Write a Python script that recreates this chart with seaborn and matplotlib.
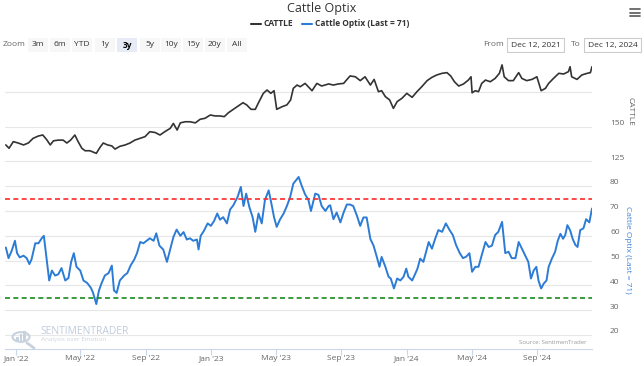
import matplotlib
matplotlib.use("Agg")
import matplotlib.pyplot as plt
import seaborn as sns
import pandas as pd
import numpy as np
from matplotlib.patches import Rectangle, Circle
from matplotlib.lines import Line2D
from matplotlib.transforms import ScaledTranslation

# ---------------- data ----------------
start_date = "2021-12-12"
end_date = "2024-12-12"

cattle_days = [1, 7, 15, 24, 34, 43, 52, 62, 70, 77,
               84, 90, 99, 108, 115, 122, 130, 136, 143, 149,
               158, 170, 177, 183, 191, 199, 205, 214, 224, 233,
               242, 252, 261, 270, 280, 289, 298, 308, 314, 321,
               327, 336, 345, 355, 364, 373, 383, 392, 401, 409,
               417, 426, 435, 444, 451, 459, 467, 473, 482, 489,
               496, 502, 507, 517, 526, 533, 538, 545,
               551, 560, 566, 573, 582, 591, 604, 613, 622, 632,
               644, 654, 663, 672, 682, 689, 697, 703, 710, 718,
               725, 732, 741, 750, 760, 769, 778, 788, 797, 806,
               816, 825, 832, 839, 847, 856, 865, 870, 872, 878,
               884, 890, 897, 906, 915, 923, 928, 932, 940, 949,
               959, 965, 974, 984, 993, 1001, 1009, 1015, 1024, 1034,
               1043, 1052, 1055, 1058, 1068, 1077, 1087, 1093, 1096]
cattle_vals = [137, 134.6, 139.4, 138.4, 137, 138.4, 141.8, 143.5, 144.2, 141,
               137, 140, 140.5, 140.5, 138.4, 140.5, 144.2, 139.4, 134.6, 132.8,
               132.8, 130.9, 135.3, 138.4, 137, 136.3, 134, 136, 137, 138.4,
               140.5, 141.8, 143, 146.6, 146, 144.2, 146.6, 149, 152.6, 147.8,
               153, 153.8, 153.8, 153, 155.6, 156.3, 158.7, 158, 158, 157.5,
               160.4, 162.8, 165.2, 167.6, 166, 162.8, 162.8, 167.6, 174.4, 176.8,
               174.4, 176.3, 162.8, 164.7, 166, 169.6, 178, 180.4,
               179.2, 181.6, 179.2, 176.3, 181.6, 179.7, 181.2, 180.4, 181.2, 181.6,
               187, 186.4, 183.6, 186.4, 180.4, 184.5, 175.6, 176.3, 172, 169.6,
               163.5, 168.4, 170.8, 174.4, 171.5, 175.6, 179.2, 183.6, 186, 187.7,
               188.9, 189.4, 187, 182.8, 179.7, 181.2, 184, 186.4, 174.8, 176.3,
               175.6, 181.6, 184, 182.8, 185.2, 188.9, 195, 186.4, 183.6, 183.6,
               189.4, 185.2, 183.6, 184.5, 186.4, 176.3, 178, 181.6, 185.2, 188.9,
               188.4, 190.1, 193.7, 186.4, 184.5, 187.7, 188.9, 189.4, 193.7]

optix_days = [1, 6, 12, 18, 22, 27, 34, 40, 45, 49,
              56, 62, 68, 72, 77, 82, 87, 93, 99, 105,
              112, 118, 123, 128, 133, 140, 146, 153, 160, 164,
              170, 175, 180, 186, 193, 199, 203, 208, 214, 222,
              228, 234, 241, 246, 252, 258, 264, 270, 277, 282,
              288, 295, 302, 308, 314, 320, 327, 333, 339, 345,
              351, 358, 361, 365, 371, 378, 384, 390, 396, 401,
              407, 414, 420, 426, 434, 440, 445, 450, 456, 462,
              467, 473, 479, 485, 492, 498, 502, 507, 513, 520,
              526, 532, 538, 548, 554, 560, 566, 571, 579, 585,
              591, 598, 604,
              607, 613, 619, 626, 632, 638, 644, 650, 657, 663,
              669, 675, 682, 688, 694, 699, 703, 710, 716, 720,
              726, 732, 738, 744, 749, 753, 760, 766, 770, 775,
              781, 786, 791, 797, 803, 809, 816, 823, 830, 836,
              842, 849, 855, 861, 867, 872, 878, 884, 890, 897,
              903, 909, 915, 921, 928, 934, 940, 946, 953, 959,
              965, 971, 977, 982, 987, 992, 996, 1001, 1006, 1011,
              1015, 1021, 1027, 1032, 1037, 1042, 1046, 1050, 1055, 1060,
              1065, 1069, 1074, 1080, 1085, 1091, 1096]
optix_vals = [55.3, 51, 54, 58, 53, 51.3, 52, 51, 48.6, 50.5,
              57, 57, 59, 60, 51, 42, 46, 44, 44.5, 47,
              42, 43, 49.5, 53, 47.5, 46, 42, 41, 39, 37,
              32.5, 38, 41, 44, 45, 48, 38, 37, 42, 44,
              45, 48, 50.5, 53, 57.5, 57, 58, 59, 58, 61,
              56, 54.5, 49.5, 54.5, 59.5, 62.5, 60, 61.5, 58.5, 59,
              58, 58.5, 54.5, 60, 62, 65, 64, 66, 69, 66.5,
              67.5, 65, 70.6, 72.3, 75.7, 79.7, 72, 77, 71.5, 67.5,
              61.6, 69, 65, 74.4, 78.3, 72, 67.5, 63.6, 66.5, 69,
              72, 75.5, 81, 83.7, 80, 76.7, 74.6, 70, 77, 76.5,
              72, 70, 72,
              72.3, 66.7, 69.4, 65.4, 69.4, 72.6, 72.6, 72, 68, 64,
              67.4, 67.4, 58.7, 56, 51.5, 47.5, 51.5, 47.5, 43.5, 42.8,
              38.8, 42.8, 42, 43.5, 46.8, 43.5, 42, 44.8, 46.8, 50.8,
              49.5, 53.5, 57.5, 54.8, 58.8, 62.3, 61.6, 65, 62.3, 60.3,
              56.3, 53, 51, 51.6, 53, 45.5, 47.5, 47.5, 52.2, 57.5,
              55.5, 56, 60.3, 61.6, 65.6, 53, 53.6, 51, 51, 57.5,
              54.8, 52.2, 49.5, 42.8, 46, 47.5, 42, 38.8, 40.8, 42,
              47.5, 50.8, 53.5, 58, 60.8, 58.8, 60.3, 64.3, 62.3, 58.7,
              56.3, 55.5, 62.3, 63, 66.7, 65.4, 71]

upper_band = 75
lower_band = 35

x_tick_dates = ["2022-01-01", "2022-05-01", "2022-09-01", "2023-01-01", "2023-05-01",
                "2023-09-01", "2024-01-01", "2024-05-01", "2024-09-01"]
x_tick_labels = ["Jan '22", "May '22", "Sep '22", "Jan '23", "May '23",
                 "Sep '23", "Jan '24", "May '24", "Sep '24"]
cattle_ticks = [125, 150, 175]
cattle_tick_labels = ["125", "150", ""]
optix_ticks = [20, 30, 40, 50, 60, 70, 80]
optix_tick_labels = ["20", "30", "40", "50", "60", "70", "80"]
zoom_buttons = ["3m", "6m", "YTD", "1y", "3y", "5y", "10y", "15y", "20y", "All"]
selected_button = "3y"
title_text = "Cattle Optix"
cattle_name = "CATTLE"
optix_name = "Cattle Optix (Last = 71)"
from_text = "Dec 12, 2021"
to_text = "Dec 12, 2024"

# ---------------- styling ----------------
sns.set_theme(style="white")
plt.rcParams["font.family"] = ["Open Sans", "DejaVu Sans"]

W, H = 644, 366
fig = plt.figure(figsize=(W / 100, H / 100), dpi=100)
fig.patch.set_facecolor("white")


def fx(px):
    return px / W


def fy(py):
    return 1 - py / H


x0, x1 = 5.3, 592
ax1 = fig.add_axes([fx(x0), fy(168.4), (x1 - x0) / W, 110.4 / H])
ax2 = fig.add_axes([fx(x0), fy(349), (x1 - x0) / W, 175 / H])

start = pd.Timestamp(start_date)
cattle_df = pd.DataFrame({"date": start + pd.to_timedelta(cattle_days, unit="D"),
                          "value": cattle_vals})
optix_df = pd.DataFrame({"date": start + pd.to_timedelta(optix_days, unit="D"),
                         "value": optix_vals})

grid_col = "#e6e6e6"
label_col = "#666666"
blue = "#2c7cd6"

for ax in (ax1, ax2):
    ax.set_facecolor("none")
    ax.set_xlim(pd.Timestamp(start_date), pd.Timestamp(end_date))
    for s in ax.spines.values():
        s.set_visible(False)
    ax.yaxis.tick_right()
    ax.tick_params(axis="y", length=0, pad=13, labelsize=6, labelcolor=label_col)
    ax.grid(axis="y", color=grid_col, linewidth=0.8)
    ax.grid(axis="x", visible=False)
    ax.set_axisbelow(True)

# top panel
sns.lineplot(data=cattle_df, x="date", y="value", ax=ax1, color="#333333", linewidth=1.2)
ax1.set_ylim(120, 200)
ax1.set_yticks(cattle_ticks)
ax1.set_yticklabels(cattle_tick_labels)
ax1.set_xticks([])
ax1.set_xlabel("")
ax1.set_ylabel("")

# bottom panel
sns.lineplot(data=optix_df, x="date", y="value", ax=ax2, color=blue, linewidth=1.4)
ax2.axhline(upper_band, color="#ff2a2a", linewidth=1.2, linestyle=(0, (3, 2)))
ax2.axhline(lower_band, color="#1a8a1a", linewidth=1.2, linestyle=(0, (3, 2)))
ax2.set_ylim(14.4, 84.9)
ax2.set_yticks(optix_ticks)
ax2.set_yticklabels(optix_tick_labels)
ax2.set_xticks(pd.to_datetime(x_tick_dates))
ax2.set_xticklabels(x_tick_labels)
ax2.tick_params(axis="x", length=4, width=0.8, color="#ccd6eb", labelsize=6,
                labelcolor=label_col, pad=0.5, bottom=True)
ax2.spines["bottom"].set_visible(True)
ax2.spines["bottom"].set_color("#ccd6eb")
ax2.spines["bottom"].set_linewidth(0.8)
ax2.set_xlabel("")
ax2.set_ylabel("")

offset = ScaledTranslation(0, 3 / 72, fig.dpi_scale_trans)
for ax in (ax1, ax2):
    for lab in ax.get_yticklabels():
        lab.set_transform(lab.get_transform() + offset)
        lab.set_horizontalalignment("left")

# axis titles
fig.text(fx(630), fy(111), cattle_name, rotation=270, ha="center", va="center",
         fontsize=6, color="#666666")
fig.text(fx(627), fy(250), optix_name, rotation=270, ha="center", va="center",
         fontsize=6, color="#3f84d8")

# header: title and legend
fig.text(fx(322), fy(8.5), title_text, ha="center", va="center", fontsize=9, color="#333333")
fig.add_artist(Line2D([fx(251), fx(261)], [fy(24), fy(24)], color="#333333", linewidth=1.5))
fig.text(fx(264), fy(24), cattle_name, ha="left", va="center", fontsize=6,
         fontweight="bold", color="#333333")
fig.add_artist(Line2D([fx(302), fx(312)], [fy(24), fy(24)], color=blue, linewidth=1.5))
fig.text(fx(315), fy(24), optix_name, ha="left", va="center", fontsize=6,
         fontweight="bold", color="#333333")

# hamburger menu
for yy in (9, 12.5, 16):
    fig.add_artist(Line2D([fx(630), fx(640)], [fy(yy), fy(yy)], color="#666666",
                          linewidth=1.3))

# zoom row
row_y = 45
fig.text(fx(14), fy(row_y), "Zoom", ha="center", va="center", fontsize=6, color="#666666")
btn_centers = [38, 60, 82, 105, 127, 150, 171, 193, 215, 237]
for name, cx in zip(zoom_buttons, btn_centers):
    sel = name == selected_button
    fig.add_artist(Rectangle((fx(cx - 10), fy(row_y + 6.5)), 20 / W, 13 / H,
                             transform=fig.transFigure,
                             facecolor="#e6ebf5" if sel else "#f7f7f7",
                             edgecolor="none"))
    fig.text(fx(cx), fy(row_y), name, ha="center", va="center", fontsize=6,
             color="#000000" if sel else "#333333",
             fontweight="bold" if sel else "normal")

fig.text(fx(493), fy(row_y), "From", ha="center", va="center", fontsize=6, color="#666666")
fig.add_artist(Rectangle((fx(507), fy(row_y + 7)), 57 / W, 14 / H, transform=fig.transFigure,
                         facecolor="white", edgecolor="#cccccc", linewidth=0.8))
fig.text(fx(535.5), fy(row_y), from_text, ha="center", va="center", fontsize=6, color="#333333")
fig.text(fx(576), fy(row_y), "To", ha="center", va="center", fontsize=6, color="#666666")
fig.add_artist(Rectangle((fx(584), fy(row_y + 7)), 57 / W, 14 / H, transform=fig.transFigure,
                         facecolor="white", edgecolor="#cccccc", linewidth=0.8))
fig.text(fx(612.5), fy(row_y), to_text, ha="center", va="center", fontsize=6, color="#333333")

# watermark
wm = "#c8d2de"
fig.add_artist(Circle((fx(21), fy(337)), 8.5 / W, transform=fig.transFigure,
                      facecolor="none", edgecolor=wm, linewidth=1.5))
for i, hgt in enumerate([4, 7, 10]):
    fig.add_artist(Rectangle((fx(16 + i * 3.5), fy(341)), 2.5 / W, hgt / H,
                             transform=fig.transFigure, facecolor=wm, edgecolor="none"))
fig.add_artist(Line2D([fx(27), fx(34)], [fy(343), fy(348)], color=wm, linewidth=2))
fig.text(fx(40), fy(331), "SENTIMENTRADER", ha="left", va="center", fontsize=7.4,
         color="#bfcbda")
fig.text(fx(41), fy(339), "Analysis over Emotion", ha="left", va="center", fontsize=4.6,
         color="#ccd3dc")
fig.text(fx(587), fy(342.5), "Source: SentimenTrader", ha="right", va="center",
         fontsize=4.3, color="#999999")

fig.savefig("out.png", dpi=100, facecolor="white")
